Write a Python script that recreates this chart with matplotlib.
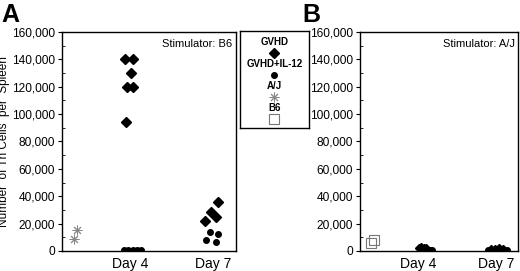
import matplotlib
matplotlib.use('Agg')
import matplotlib.pyplot as plt
from matplotlib.ticker import MultipleLocator, FuncFormatter

plt.rcParams['font.family'] = ['Liberation Sans', 'DejaVu Sans']

# panel A (stimulator B6)
a_gvhd_x = [3.82, 4.13, 4.04, 3.88, 4.12, 3.86, 6.72, 6.92, 7.18, 7.10]
a_gvhd_y = [140000, 140000, 130000, 120000, 120000, 94000, 21700, 28100, 35900, 24700]
a_il12_x = [3.80, 3.95, 4.10, 4.25, 4.42, 6.90, 7.18, 6.74, 7.10]
a_il12_y = [1000, 1000, 1000, 1000, 1000, 13800, 12200, 7800, 6600]
a_aj_x = [2.08, 2.00]
a_aj_y = [15600, 8800]

# panel B (stimulator A/J)
b_gvhd_x = [4.02, 4.12, 4.22, 4.32, 6.80, 6.95, 7.10, 7.25]
b_gvhd_y = [2300, 2600, 2400, 1800, 1500, 1700, 1900, 1500]
b_il12_x = [4.45, 4.52, 6.68, 7.40]
b_il12_y = [900, 700, 800, 900]
b_b6_x = [2.19, 2.32]
b_b6_y = [6000, 8200]

day_ticks = [4, 7]
day_labels = ['Day 4', 'Day 7']

groups = ['GVHD', 'GVHD+IL-12', 'A/J', 'B6']

fmt = FuncFormatter(lambda v, p: f'{int(v):,}')


def style_axes(ax, xlim, note):
    ax.set_xlim(*xlim)
    ax.set_ylim(0, 160000)
    ax.yaxis.set_major_locator(MultipleLocator(20000))
    ax.yaxis.set_minor_locator(MultipleLocator(10000))
    ax.yaxis.set_major_formatter(fmt)
    ax.set_xticks(day_ticks)
    ax.set_xticklabels(day_labels, fontsize=10)
    ax.tick_params(axis='x', length=0, pad=4)
    ax.tick_params(axis='y', which='major', length=3, direction='out', labelsize=8.6, pad=2)
    ax.tick_params(axis='y', which='minor', length=2, direction='in')
    for s in ax.spines.values():
        s.set_linewidth(1.0)
    ax.text(0.98, 0.97, note, transform=ax.transAxes, ha='right', va='top', fontsize=8)


fig = plt.figure(figsize=(5.2, 2.71), dpi=100)

ax1 = fig.add_axes([0.119, 0.074, 0.335, 0.808])
ax1.plot(a_gvhd_x, a_gvhd_y, 'D', color='black', markersize=5, linestyle='none', clip_on=False)
ax1.plot(a_il12_x, a_il12_y, 'o', color='black', markersize=4, linestyle='none', clip_on=True)
ax1.plot(a_aj_x, a_aj_y, marker=(8, 2, 0), color='#888888', markersize=7, linewidth=0.6,
         linestyle='none', markeredgewidth=0.7)
style_axes(ax1, (1.55, 7.83), 'Stimulator: B6')
ax1.set_ylabel('Number  of Th Cells  per  Spleen', fontsize=8.5)
ax1.yaxis.set_label_coords(-0.295, 0.5)
fig.text(0.002, 0.99, 'A', fontsize=18, fontweight='bold', ha='left', va='top')

ax2 = fig.add_axes([0.692, 0.074, 0.305, 0.808])
ax2.plot(b_gvhd_x, b_gvhd_y, 'D', color='black', markersize=4.5, linestyle='none')
ax2.plot(b_il12_x, b_il12_y, 'o', color='black', markersize=4, linestyle='none')
ax2.plot(b_b6_x, b_b6_y, 's', markerfacecolor='none', markeredgecolor='#777777',
         markersize=7, markeredgewidth=0.8, linestyle='none')
style_axes(ax2, (1.77, 7.85), 'Stimulator: A/J')
fig.text(0.581, 0.99, 'B', fontsize=18, fontweight='bold', ha='left', va='top')

# legend box: label above its marker, stacked
lax = fig.add_axes([0.4615, 0.528, 0.1325, 0.358])
lax.set_xlim(0, 1)
lax.set_ylim(0, 1)
lax.set_xticks([])
lax.set_yticks([])
for s in lax.spines.values():
    s.set_linewidth(1.0)
marker_styles = [
    dict(marker='D', color='black', markersize=5),
    dict(marker='o', color='black', markersize=4),
    dict(marker=(8, 2, 0), color='#888888', markersize=7, markeredgewidth=0.7),
    dict(marker='s', markerfacecolor='none', markeredgecolor='#777777', markersize=7, markeredgewidth=0.8),
]
step = 0.228
for i, (g, ms) in enumerate(zip(groups, marker_styles)):
    ty = 0.89 - i * step
    lax.text(0.5, ty, g, ha='center', va='center', fontsize=7, fontweight='bold')
    lax.plot([0.5], [ty - 0.113], linestyle='none', **ms)

fig.savefig('out.png', dpi=100)
